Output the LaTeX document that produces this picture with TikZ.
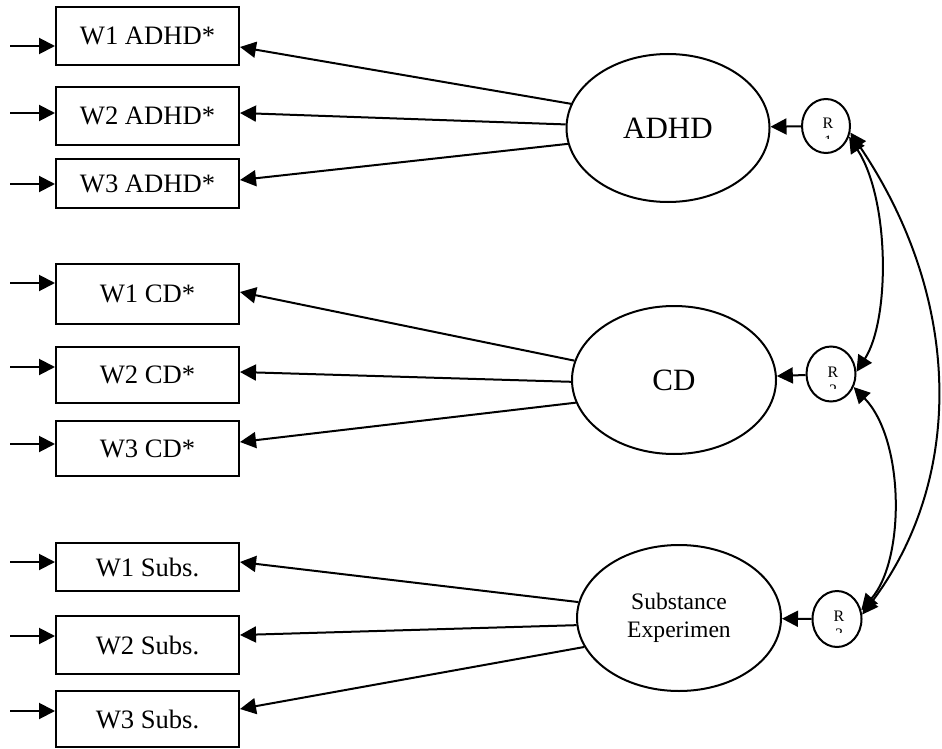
\documentclass[tikz,border=0pt]{standalone}
\usepackage{fontspec}
\setmainfont{Liberation Serif}
\usetikzlibrary{shapes.geometric,arrows.meta}
\begin{document}
\begin{tikzpicture}[x=0.5pt,y=-0.5pt,
  line width=1pt,
  arr/.style={-{Triangle[length=8pt,width=8pt]}},
  darr/.style={{Triangle[length=8pt,width=8pt]}-{Triangle[length=8pt,width=8pt]}},
  obs/.style={draw,rectangle,minimum width=91.5pt,inner sep=0pt,font=\fontsize{13.3}{16}\selectfont},
  lat/.style={draw,ellipse,inner sep=0pt,minimum width=102pt,minimum height=74pt,font=\fontsize{15.5}{18}\selectfont,align=center},
  res/.style={draw,ellipse,inner sep=0pt,minimum width=24pt,minimum height=27pt},
  rtxt/.style={inner sep=0pt,font=\fontsize{8}{9}\selectfont}]
\useasboundingbox (0,0) rectangle (942,749);

% observed boxes
\node[obs,minimum height=29pt] (w1a) at (147.5,36) {W1 ADHD*};
\node[obs,minimum height=29pt] (w2a) at (147.5,116) {W2 ADHD*};
\node[obs,minimum height=24.5pt] (w3a) at (147.5,183.5) {W3 ADHD*};
\node[obs,minimum height=30pt] (w1c) at (147.5,294) {W1 CD*};
\node[obs,minimum height=28pt] (w2c) at (147.5,375) {W2 CD*};
\node[obs,minimum height=27.5pt] (w3c) at (147.5,448.5) {W3 CD*};
\node[obs,minimum height=24pt] (w1s) at (147.5,567) {W1 Subs.\hspace{18.5pt}};
\node[obs,minimum height=29pt] (w2s) at (147.5,645) {W2 Subs.\hspace{18.5pt}};
\node[obs,minimum height=28pt] (w3s) at (147.5,719) {W3 Subs.\hspace{18.5pt}};

% latent ellipses
\node[lat,minimum width=101.5pt] (adhd) at (668,128) {ADHD};
\node[lat] (cd) at (674,380) {CD};
\node[lat,minimum height=73pt,font=\fontsize{11.8}{14}\selectfont] (subs) at (679,618) {Substance\\Experimen};

% residual circles
\node[res] (r1) at (826,126) {};
\node[res,minimum width=24.5pt,minimum height=27.5pt] (r2) at (831,374) {};
\node[res,minimum width=24.5pt,minimum height=28pt] (r3) at (837,619) {};
\node[rtxt] (r1t) at (828,123) {R};
\node[rtxt] (r2t) at (833,372) {R};
\node[rtxt] (r3t) at (839,616) {R};
\begin{scope}
  \clip (812,133) rectangle (846,139);
  \node[rtxt] (r1d) at (828,141) {1};
\end{scope}
\begin{scope}
  \clip (816,382) rectangle (850,388);
  \node[rtxt] (r2d) at (833,390) {2};
\end{scope}
\begin{scope}
  \clip (822,626) rectangle (856,632);
  \node[rtxt] (r3d) at (839,634) {3};
\end{scope}

% error arrows into boxes
\foreach \b/\y/\n in {w1a/46/a1,w2a/113/a2,w3a/184/a3,w1c/283/c1,w2c/367/c2,w3c/444/c3,w1s/562/s1,w2s/636/s2,w3s/711/s3}{
  \coordinate (e\n) at (10,\y);
  \draw[arr] (e\n) -- (\b.west |- e\n);
}

% loadings
\coordinate (ta1) at (0,47);  \coordinate (ta2) at (0,113); \coordinate (ta3) at (0,180);
\coordinate (tc1) at (0,292); \coordinate (tc2) at (0,372); \coordinate (tc3) at (0,442);
\coordinate (ts1) at (0,562); \coordinate (ts2) at (0,635); \coordinate (ts3) at (0,709);
\draw[arr] (adhd.166) -- (w1a.east |- ta1);
\draw[arr] (adhd.178) -- (w2a.east |- ta2);
\draw[arr] (adhd.189.5) -- (w3a.east |- ta3);
\draw[arr] (cd.169) -- (w1c.east |- tc1);
\draw[arr] (cd.181.7) -- (w2c.east |- tc2);
\draw[arr] (cd.193) -- (w3c.east |- tc3);
\draw[arr] (subs.171.5) -- (w1s.east |- ts1);
\draw[arr] (subs.184) -- (w2s.east |- ts2);
\draw[arr] (subs.197) -- (w3s.east |- ts3);

% residual to latent
\draw[arr] (r1) -- (adhd);
\draw[arr] (r2) -- (cd);
\draw[arr] (r3) -- (subs);

% covariances
\draw[darr] (r1.-25) .. controls (890,200) and (890,320) .. (r2.5);
\draw[darr] (r2.-30) .. controls (905,440) and (905,560) .. (r3.20);
\draw[darr] (r1.-15) .. controls (964,300) and (964,480) .. (r3.10);
\end{tikzpicture}
\end{document}
